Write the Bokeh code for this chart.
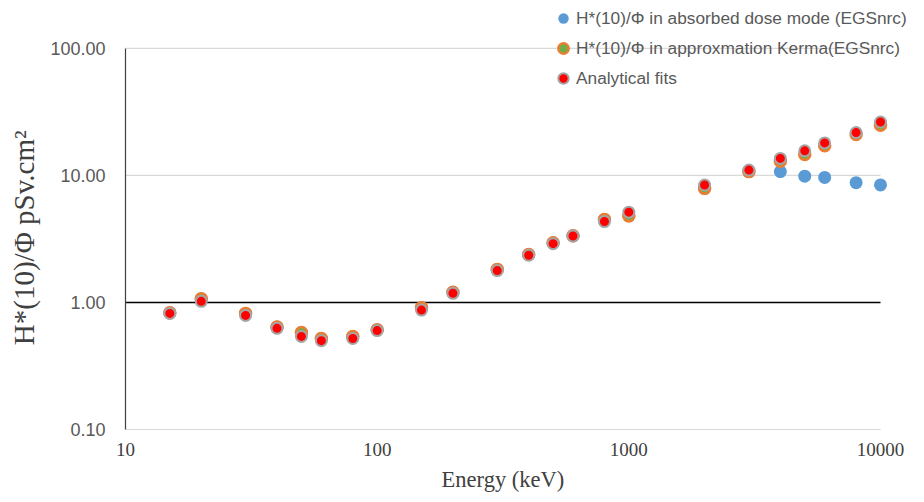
import math
from bokeh.plotting import figure
from bokeh.models import FixedTicker, PrintfTickFormatter, Legend, LegendItem, ColumnDataSource
from bokeh.embed import file_html
from bokeh.resources import INLINE

energy_kev = [15, 20, 30, 40, 50, 60, 80, 100, 150, 200, 300, 400, 500, 600, 800, 1000,
              2000, 3000, 4000, 5000, 6000, 8000, 10000]
absorbed_dose = [0.83, 1.07, 0.82, 0.64, 0.58, 0.52, 0.54, 0.61, 0.91, 1.20, 1.82, 2.38, 2.95, 3.35,
                 4.50, 4.80, 7.90, 10.7, 10.7, 9.86, 9.64, 8.76, 8.41]
kerma_approx = [0.83, 1.07, 0.82, 0.64, 0.58, 0.52, 0.54, 0.61, 0.91, 1.20, 1.82, 2.38, 2.95, 3.35,
                4.50, 4.80, 7.90, 10.7, 12.9, 14.6, 17.1, 21.0, 24.8]
analytical_fit = [0.82, 1.02, 0.79, 0.625, 0.54, 0.50, 0.52, 0.60, 0.87, 1.18, 1.78, 2.35, 2.90, 3.33,
                  4.33, 5.13, 8.40, 11.0, 13.6, 15.6, 18.0, 21.7, 26.3]
x_ticks = [10, 100, 1000, 10000]
y_ticks = [0.1, 1, 10, 100]
labels = ["H*(10)/\u03a6 in absorbed dose mode (EGSnrc)",
          "H*(10)/\u03a6 in approxmation Kerma(EGSnrc)",
          "Analytical fits"]
x_title = "Energy (keV)"
y_title = "H*(10)/\u03a6 pSv.cm\u00b2"

# ---- layout (pixels) ----
W, H = 908, 494
AX_L, AX_R, AX_T, AX_B = 125, 880, 48, 431      # where the axes box sits
FR_T, FR_R = 2, 908                               # frame extended so the legend is not clipped
x_lo, x_hi = x_ticks[0], x_ticks[-1]
y_lo, y_hi = y_ticks[0], y_ticks[-1]
px_dec_x = (AX_R - AX_L) / (math.log10(x_hi) - math.log10(x_lo))
px_dec_y = (AX_B - AX_T) / (math.log10(y_hi) - math.log10(y_lo))
x_end = 10 ** (math.log10(x_hi) + (FR_R - AX_R) / px_dec_x)
y_end = 10 ** (math.log10(y_hi) + (AX_T - FR_T) / px_dec_y)
NBSP = "\u00a0"

src = ColumnDataSource(dict(e=energy_kev, a=absorbed_dose, k=kerma_approx, f=analytical_fit))

p = figure(width=W, height=H, x_axis_type="log", y_axis_type="log",
           x_range=(x_lo, x_end), y_range=(y_lo, y_end),
           output_backend="svg", toolbar_location=None,
           min_border_left=AX_L, min_border_right=W - FR_R, min_border_top=FR_T,
           min_border_bottom=H - AX_B)
p.outline_line_color = None
p.background_fill_color = "white"
p.border_fill_color = "white"
p.xgrid.visible = False
p.ygrid.visible = False

# horizontal gridlines limited to the axes box
grid_y = [v for v in y_ticks if v != 1]
p.segment(x0=[x_lo] * len(grid_y), x1=[x_hi] * len(grid_y), y0=grid_y, y1=grid_y,
          line_color="#D9D9D9", line_width=1.2)
# horizontal axis crossing at 1
p.segment(x0=[x_lo], x1=[x_hi], y0=[1], y1=[1], line_color="black", line_width=1.6)

p.xaxis.ticker = FixedTicker(ticks=x_ticks)
p.xaxis.bounds = (x_lo, x_hi)
p.xaxis.formatter = PrintfTickFormatter(format="%d")
p.xaxis.minor_tick_line_color = None
p.xaxis.major_tick_line_color = None
p.xaxis.axis_line_color = "#D9D9D9"
p.xaxis.major_label_text_font = "Liberation Serif"
p.xaxis.major_label_text_font_size = "19px"
p.xaxis.major_label_text_color = "#404040"
p.xaxis.major_label_standoff = 7
# trailing no-break spaces re-centre the title under the axes box
p.xaxis.axis_label = x_title + NBSP * 5
p.xaxis.axis_label_text_font = "Liberation Serif"
p.xaxis.axis_label_text_font_style = "normal"
p.xaxis.axis_label_text_font_size = "22.5px"
p.xaxis.axis_label_text_color = "#404040"
p.xaxis.axis_label_standoff = 8

p.yaxis.ticker = FixedTicker(ticks=y_ticks)
p.yaxis.bounds = (y_lo, y_hi)
p.yaxis.formatter = PrintfTickFormatter(format="%.2f")
p.yaxis.minor_tick_line_color = None
p.yaxis.major_tick_line_color = None
p.yaxis.axis_line_color = "#404040"
p.yaxis.axis_line_width = 1.2
p.yaxis.major_label_text_font = "Liberation Sans"
p.yaxis.major_label_text_font_size = "18px"
p.yaxis.major_label_text_color = "#595959"
p.yaxis.major_label_standoff = 14
p.yaxis.axis_label = y_title + NBSP * 6
p.yaxis.axis_label_text_font = "Liberation Serif"
p.yaxis.axis_label_text_font_style = "normal"
p.yaxis.axis_label_text_font_size = "29px"
p.yaxis.axis_label_text_color = "#404040"
p.yaxis.axis_label_standoff = 7

r1 = p.scatter("e", "a", source=src, size=13, fill_color="#5B9BD5", line_color=None)
r2 = p.scatter("e", "k", source=src, size=11, fill_color="#70AD47", line_color="#ED7D31", line_width=2.5)
r3 = p.scatter("e", "f", source=src, size=11, fill_color="#FF0000", line_color="#A5A5A5", line_width=2)

legend = Legend(items=[LegendItem(label=labels[0], renderers=[r1]),
                       LegendItem(label=labels[1], renderers=[r2]),
                       LegendItem(label=labels[2], renderers=[r3])],
                location=(425, AX_B - 93), padding=0, margin=0, spacing=4,
                glyph_width=26, glyph_height=26, label_height=26, label_standoff=0,
                background_fill_alpha=0, border_line_alpha=0,
                label_text_font="Liberation Sans", label_text_font_size="17.3px",
                label_text_color="#595959")
p.add_layout(legend, "center")

open("out.html", "w").write(file_html(p, INLINE))
